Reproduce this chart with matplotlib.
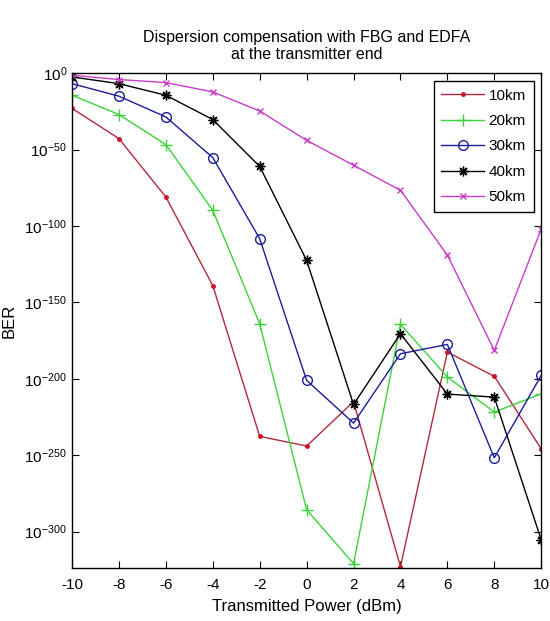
import matplotlib
matplotlib.use("Agg")
import matplotlib.pyplot as plt
from matplotlib.ticker import FixedLocator, FuncFormatter

plt.rcParams['font.family'] = ['Liberation Sans', 'DejaVu Sans']
plt.rcParams['mathtext.default'] = 'regular'
plt.rcParams['axes.unicode_minus'] = False

power = [-10, -8, -6, -4, -2, 0, 2, 4, 6, 8, 10]
# log10(BER) values
ber_10km = [-23, -42.8, -81, -139, -237.7, -244, -215, -323, -182.5, -198.4, -245.8]
ber_20km = [-14.4, -27, -46.7, -89.7, -164, -285.7, -321, -164.4, -198.8, -221.8, -209.8]
ber_30km = [-6.8, -15, -28.6, -55.2, -108.3, -201, -229, -183.6, -177.5, -251.7, -197.8]
ber_40km = [-2.4, -6.8, -14.4, -30.3, -61, -122.5, -216.8, -170.5, -210, -212, -305.4]
ber_50km = [-1.3, -4.1, -6.1, -12.2, -24.7, -43.9, -60.2, -76.6, -119, -181.4, -102]
labels = ['10km', '20km', '30km', '40km', '50km']
yticks = [0, -50, -100, -150, -200, -250, -300]
xticks = [-10, -8, -6, -4, -2, 0, 2, 4, 6, 8, 10]

fig = plt.figure(figsize=(5.5, 6.21), dpi=100)
ax = fig.add_axes([0.131, 0.085, 0.853, 0.797])

ax.plot(power, ber_10km, '-', color='#b02a3a', marker='.', markersize=5,
        markerfacecolor='#d0102a', markeredgecolor='#d0102a', lw=1, label=labels[0])
ax.plot(power, ber_20km, '-', color='#3cd23c', marker='+', markersize=8, mew=1, lw=1, label=labels[1])
ax.plot(power, ber_30km, '-', color='#1c1c9a', marker='o', markersize=7, mfc='none', mew=1, lw=1, label=labels[2])
ax.plot(power, ber_40km, '-', color='#000000', marker=(8, 2, 0), markersize=7, mew=1, lw=1, label=labels[3])
ax.plot(power, ber_50km, '-', color='#c83cc8', marker='x', markersize=5, mew=1, lw=1, label=labels[4])

ax.set_xlim(-10, 10)
ax.set_ylim(-324, 0)
ax.xaxis.set_major_locator(FixedLocator(xticks))
ax.yaxis.set_major_locator(FixedLocator(yticks))
ax.yaxis.set_major_formatter(FuncFormatter(lambda v, p: '10$^{%d}$' % int(round(v))))
ax.tick_params(direction='in', top=True, right=True, labelsize=11, length=5)
ax.tick_params(axis='x', pad=7)
for s in ax.spines.values():
    s.set_linewidth(1)

ax.set_xlabel('Transmitted Power (dBm)', fontsize=12, labelpad=5)
ax.set_ylabel('BER', fontsize=12, labelpad=6)
ax.set_title('Dispersion compensation with FBG and EDFA\nat the transmitter end', fontsize=11.5, pad=10)

leg = ax.legend(loc='upper right', fontsize=11, fancybox=False, edgecolor='black',
                framealpha=1, borderaxespad=0.5, handlelength=2.8, labelspacing=0.75,
                handletextpad=0.3, borderpad=0.5)
leg.get_frame().set_linewidth(1)

fig.savefig('out.png', dpi=100)
